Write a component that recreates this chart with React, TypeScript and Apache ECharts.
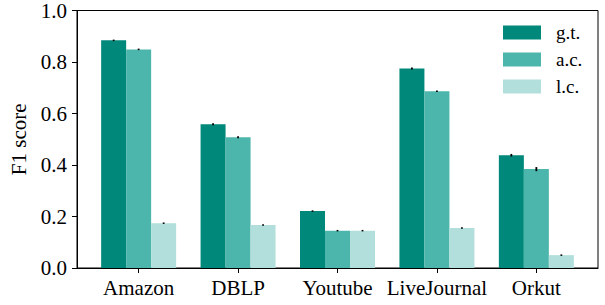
import React, { useEffect, useRef } from "react";
import * as echarts from "echarts";

const categories = ["Amazon", "DBLP", "Youtube", "LiveJournal", "Orkut"];
const seriesNames = ["g.t.", "a.c.", "l.c."];
const gtValues = [0.884, 0.558, 0.221, 0.775, 0.438];
const acValues = [0.849, 0.508, 0.145, 0.686, 0.384];
const lcValues = [0.174, 0.167, 0.145, 0.155, 0.05];
const gtErrors = [0.003, 0.004, 0.002, 0.004, 0.005];
const acErrors = [0.003, 0.004, 0.002, 0.002, 0.008];
const lcErrors = [0.001, 0.003, 0.002, 0.002, 0.002];
const yTicks = [0, 0.2, 0.4, 0.6, 0.8, 1.0];

const colors = ["#00897B", "#4DB6AC", "#B2DFDB"];
const FONT = "Liberation Serif";
const BAR_W = 25;

export default function App() {
  const ref = useRef<HTMLDivElement>(null);
  useEffect(() => {
    if (!ref.current) return;
    const chart = echarts.init(ref.current, null, { renderer: "svg" });
    const allValues = [gtValues, acValues, lcValues];
    const allErrors = [gtErrors, acErrors, lcErrors];
    const barSeries = allValues.map((vals, si) => ({
      type: "bar",
      name: seriesNames[si],
      data: vals.map((v, i) => [i, v]),
      barWidth: BAR_W,
      barGap: "0%",
      itemStyle: { color: colors[si] },
      z: 2,
    }));
    const errData: number[][] = [];
    allValues.forEach((vals, si) =>
      vals.forEach((v, i) => errData.push([i, v, allErrors[si][i], si]))
    );
    const errSeries = {
      type: "custom",
      data: errData,
      z: 5,
      silent: true,
      renderItem: (params: any, api: any) => {
        const x = api.value(0);
        const v = api.value(1);
        const e = api.value(2);
        const si = api.value(3);
        const off = (si - 1) * BAR_W;
        const p1 = api.coord([x, v - e]);
        const p2 = api.coord([x, v + e]);
        const h = Math.max(Math.abs(p2[1] - p1[1]), 1.5);
        const cy = (p1[1] + p2[1]) / 2;
        return {
          type: "line",
          shape: { x1: p1[0] + off, y1: cy - h / 2, x2: p1[0] + off, y2: cy + h / 2 },
          style: { stroke: "#000", lineWidth: 1.8 },
        };
      },
    };
    chart.setOption({
      animation: false,
      textStyle: { fontFamily: FONT },
      grid: {
        left: 77,
        right: 7,
        top: 10,
        bottom: 37,
        show: true,
        borderColor: "#000",
        borderWidth: 1,
        backgroundColor: "transparent",
      },
      legend: {
        orient: "vertical",
        left: 498,
        top: 18,
        itemWidth: 38,
        itemHeight: 14,
        itemGap: 8,
        icon: "rect",
        data: seriesNames,
        textStyle: {
          fontFamily: FONT,
          fontSize: 19,
          color: "#000",
          padding: [0, 0, 0, 10],
        },
      },
      xAxis: {
        type: "value",
        min: -0.62,
        max: 4.62,
        splitLine: { show: false },
        axisLine: { show: true, onZero: false, lineStyle: { color: "#000", width: 1 } },
        axisTick: {
          show: true,
          customValues: [0, 1, 2, 3, 4],
          length: 5,
          lineStyle: { color: "#000", width: 1 },
        },
        axisLabel: {
          customValues: [0, 1, 2, 3, 4],
          formatter: (v: number) => categories[Math.round(v)] ?? "",
          fontFamily: FONT,
          fontSize: 21,
          color: "#000",
          margin: 9,
        },
      },
      yAxis: {
        type: "value",
        min: 0,
        max: 1,
        interval: 0.2,
        name: "F1 score",
        nameLocation: "middle",
        nameGap: 45,
        nameTextStyle: { fontFamily: FONT, fontSize: 21, color: "#000" },
        splitLine: { show: false },
        axisLine: { show: true, onZero: false, lineStyle: { color: "#000", width: 1 } },
        axisTick: { show: true, length: 5, lineStyle: { color: "#000", width: 1 } },
        axisLabel: {
          fontFamily: FONT,
          fontSize: 21,
          color: "#000",
          margin: 10,
          formatter: (v: number) => {
            const t = yTicks.find((k) => Math.abs(k - v) < 1e-9);
            return (t ?? v).toFixed(1);
          },
        },
      },
      series: [...barSeries, errSeries],
    });
    return () => chart.dispose();
  }, []);
  return <div ref={ref} style={{ width: 605, height: 305, position: "absolute", left: 0, top: 0 }} />;
}
